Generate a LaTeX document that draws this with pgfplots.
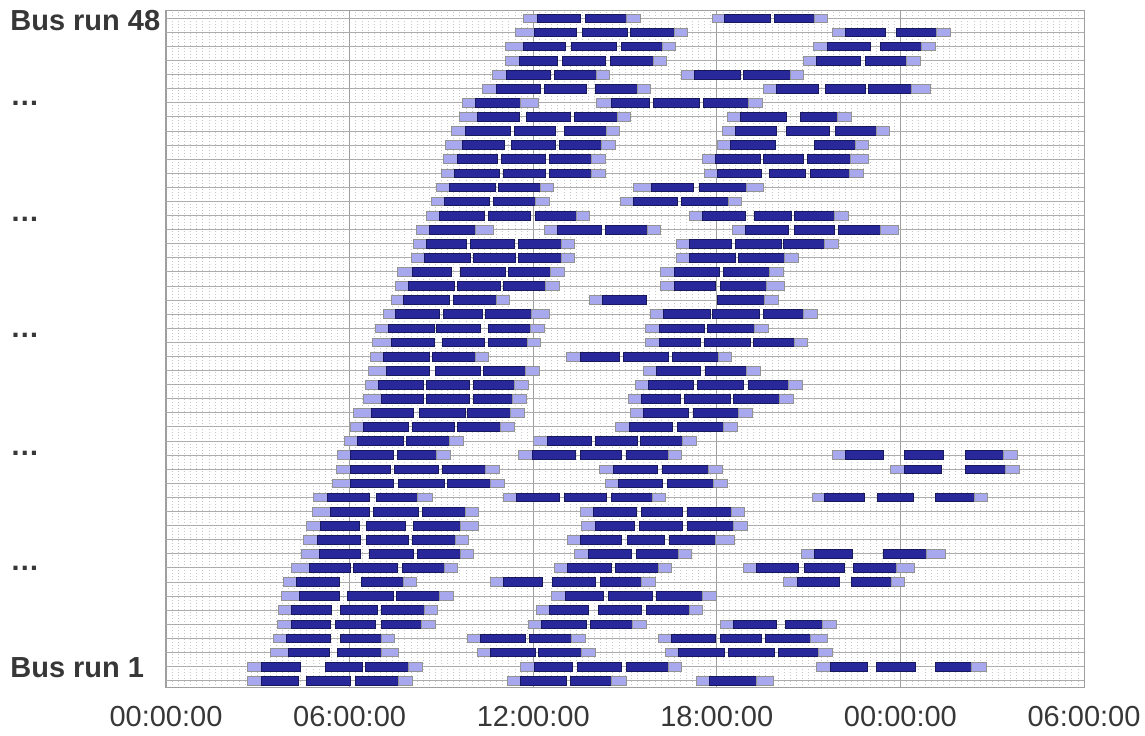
\documentclass[border=0pt]{standalone}
\usepackage{pgfplots}
\usepackage{pgfplotstable}
\pgfplotsset{compat=1.18}
\usepackage{fontspec}
\setmainfont{Liberation Sans}
\definecolor{darkbar}{RGB}{40,40,155}
\definecolor{lightbar}{RGB}{168,168,238}
\definecolor{lblgray}{RGB}{55,55,55}
\pgfplotsset{
  seg0/.style={fill=lightbar, draw=gray!85, line width=0.4pt, forget plot},
  seg1/.style={fill=darkbar, draw=darkbar!60!black, line width=0.4pt, forget plot},
}
\pgfplotstableread{
row s e t
48 11.69 12.14 0
48 12.14 13.55 1
48 13.71 15.05 1
48 15.05 15.50 0
48 17.86 18.25 0
48 18.25 19.75 1
48 19.88 21.20 1
48 21.20 21.61 0
47 11.42 12.04 0
47 12.04 13.40 1
47 13.61 15.07 1
47 15.18 16.60 1
47 16.60 17.03 0
47 21.79 22.19 0
47 22.19 23.50 1
47 23.88 25.18 1
47 25.18 25.63 0
46 11.09 11.69 0
46 11.69 13.05 1
46 13.26 14.72 1
46 14.87 16.23 1
46 16.23 16.66 0
46 21.17 21.61 0
46 21.61 23.01 1
46 23.36 24.70 1
46 24.70 25.15 0
45 11.09 11.55 0
45 11.55 12.78 1
45 12.95 14.37 1
45 14.52 15.92 1
45 15.92 16.35 0
45 20.83 21.26 0
45 21.26 22.68 1
45 22.87 24.21 1
45 24.21 24.64 0
44 10.68 11.13 0
44 11.13 12.56 1
44 12.70 14.08 1
44 14.08 14.50 0
44 16.85 17.28 0
44 17.28 18.78 1
44 18.87 20.39 1
44 20.39 20.82 0
43 10.33 10.80 0
43 10.80 12.23 1
43 12.37 13.73 1
43 14.04 15.42 1
43 15.42 15.84 0
43 19.53 19.94 0
43 19.94 21.32 1
43 21.55 22.85 1
43 22.97 24.37 1
43 24.37 24.97 0
42 9.69 10.10 0
42 10.10 11.59 1
42 11.59 12.16 0
42 14.08 14.56 0
42 14.56 15.79 1
42 15.94 17.42 1
42 17.55 19.03 1
42 19.03 19.48 0
41 9.59 10.19 0
41 10.19 11.55 1
41 11.79 13.20 1
41 13.36 14.74 1
41 14.74 15.17 0
41 18.35 18.78 0
41 18.78 20.29 1
41 20.72 21.94 1
41 21.94 22.39 0
40 9.34 9.77 0
40 9.77 11.24 1
40 11.38 12.72 1
40 13.03 14.39 1
40 14.39 14.83 0
40 18.17 18.62 0
40 18.62 19.96 1
40 20.29 21.67 1
40 21.86 23.20 1
40 23.20 23.63 0
39 9.13 9.69 0
39 9.69 11.07 1
39 11.28 12.72 1
39 12.87 14.23 1
39 14.23 14.68 0
39 18.02 18.45 0
39 18.45 19.92 1
39 21.20 22.52 1
39 22.52 22.97 0
38 9.07 9.51 0
38 9.51 10.82 1
38 10.95 12.39 1
38 12.54 13.90 1
38 13.90 14.37 0
38 17.53 17.96 0
38 17.96 19.42 1
38 19.53 20.83 1
38 20.95 22.37 1
38 22.37 22.95 0
37 9.01 9.44 0
37 9.44 10.91 1
37 11.03 12.39 1
37 12.54 13.90 1
37 13.90 14.35 0
37 17.59 18.02 0
37 18.02 19.46 1
37 19.71 20.91 1
37 21.05 22.33 1
37 22.33 22.78 0
36 8.83 9.26 0
36 9.26 10.76 1
36 10.85 12.23 1
36 12.23 12.66 0
36 15.28 15.86 0
36 15.86 17.22 1
36 17.44 18.97 1
36 18.97 19.53 0
35 8.68 9.09 0
35 9.09 10.58 1
35 10.70 12.08 1
35 12.08 12.52 0
35 14.85 15.28 0
35 15.28 16.72 1
35 16.85 18.39 1
35 18.39 18.82 0
34 8.52 8.93 0
34 8.93 10.41 1
34 10.52 11.90 1
34 12.06 13.40 1
34 13.40 13.84 0
34 17.11 17.53 0
34 17.53 18.95 1
34 19.22 20.43 1
34 20.54 21.84 1
34 21.84 22.29 0
33 8.19 8.62 0
33 8.62 10.10 1
33 10.10 10.70 0
33 12.37 12.78 0
33 12.78 14.23 1
33 14.37 15.73 1
33 15.73 16.17 0
33 18.52 18.95 0
33 18.95 20.35 1
33 20.52 21.84 1
33 21.96 23.36 1
33 23.36 23.94 0
32 8.08 8.50 0
32 8.50 9.83 1
32 9.94 11.40 1
32 11.53 12.91 1
32 12.91 13.34 0
32 16.68 17.11 0
32 17.11 18.47 1
32 18.60 20.12 1
32 20.19 21.53 1
32 21.53 21.96 0
31 8.02 8.43 0
31 8.43 9.94 1
31 10.04 11.42 1
31 11.53 12.91 1
31 12.91 13.34 0
31 16.68 17.11 0
31 17.11 18.60 1
31 18.72 20.21 1
31 20.21 20.66 0
30 7.57 8.04 0
30 8.04 9.34 1
30 9.63 11.09 1
30 11.20 12.56 1
30 12.56 13.03 0
30 16.17 16.62 0
30 16.62 18.10 1
30 18.21 19.73 1
30 19.73 20.16 0
29 7.51 7.92 0
29 7.92 9.44 1
29 9.51 10.93 1
29 11.03 12.39 1
29 12.39 12.85 0
29 16.16 16.62 0
29 16.62 17.96 1
29 18.12 19.63 1
29 19.63 20.21 0
28 7.36 7.77 0
28 7.77 9.26 1
28 9.38 10.80 1
28 10.80 11.22 0
28 13.84 14.27 0
28 14.27 15.71 1
28 18.02 19.55 1
28 19.55 20.00 0
27 7.09 7.51 0
27 7.51 8.93 1
27 9.05 10.33 1
27 10.45 11.94 1
27 11.94 12.52 0
27 15.83 16.27 0
27 16.27 17.79 1
27 17.86 19.38 1
27 19.53 20.83 1
27 20.83 21.30 0
26 6.85 7.28 0
26 7.28 8.76 1
26 8.85 10.27 1
26 10.52 11.90 1
26 11.90 12.35 0
26 15.67 16.12 0
26 16.12 17.61 1
26 17.69 19.22 1
26 19.22 19.67 0
25 6.76 7.36 0
25 7.36 8.76 1
25 9.03 10.41 1
25 10.54 11.81 1
25 11.81 12.25 0
25 15.67 16.12 0
25 16.12 17.46 1
25 17.61 19.11 1
25 19.18 20.54 1
25 20.54 20.97 0
24 6.68 7.11 0
24 7.11 8.60 1
24 8.70 10.12 1
24 10.12 10.54 0
24 13.09 13.55 0
24 13.55 14.82 1
24 14.95 16.41 1
24 16.54 18.06 1
24 18.06 18.49 0
23 6.60 7.20 0
23 7.20 8.60 1
23 8.80 10.27 1
23 10.37 11.75 1
23 11.75 12.19 0
23 15.61 16.04 0
23 16.04 17.46 1
23 17.63 18.97 1
23 18.97 19.42 0
22 6.52 6.95 0
22 6.95 8.41 1
22 8.52 9.92 1
22 10.04 11.40 1
22 11.40 11.84 0
22 15.34 15.77 0
22 15.77 17.22 1
22 17.36 18.87 1
22 19.03 20.35 1
22 20.35 20.80 0
21 6.45 7.03 0
21 7.03 8.41 1
21 8.52 9.92 1
21 10.06 11.32 1
21 11.32 11.77 0
21 15.11 15.53 0
21 15.53 16.80 1
21 16.95 18.45 1
21 18.54 20.06 1
21 20.06 20.50 0
20 6.12 6.70 0
20 6.70 8.10 1
20 8.29 9.77 1
20 9.86 11.26 1
20 11.26 11.71 0
20 15.18 15.61 0
20 15.61 17.07 1
20 17.22 18.72 1
20 18.72 19.17 0
19 6.02 6.45 0
19 6.45 7.92 1
19 8.04 9.44 1
19 9.53 10.93 1
19 10.93 11.40 0
19 14.68 15.13 0
19 15.13 16.56 1
19 16.72 18.21 1
19 18.21 18.66 0
18 5.84 6.27 0
18 6.27 7.75 1
18 7.86 9.26 1
18 9.26 9.71 0
18 12.02 12.45 0
18 12.45 13.90 1
18 14.04 15.40 1
18 15.51 16.89 1
18 16.89 17.34 0
17 5.59 6.02 0
17 6.02 7.42 1
17 7.55 8.85 1
17 8.85 9.28 0
17 11.53 11.96 0
17 11.96 13.38 1
17 13.53 14.89 1
17 15.03 16.41 1
17 16.41 16.83 0
17 21.77 22.19 0
17 22.19 23.44 1
17 24.12 25.40 1
17 26.14 27.38 1
17 27.38 27.81 0
16 5.57 6.02 0
16 6.02 7.32 1
16 7.48 8.91 1
16 9.03 10.43 1
16 10.43 10.89 0
16 14.17 14.62 0
16 14.62 16.06 1
16 16.21 17.71 1
16 17.71 18.17 0
16 23.67 24.14 0
16 24.14 25.34 1
16 26.14 27.42 1
16 27.42 27.88 0
15 5.44 6.02 0
15 6.02 7.42 1
15 7.61 9.09 1
15 9.20 10.60 1
15 10.60 11.05 0
15 14.37 14.80 0
15 14.80 16.21 1
15 16.37 17.90 1
15 17.90 18.35 0
14 4.83 5.28 0
14 5.28 6.66 1
14 6.87 8.23 1
14 8.23 8.70 0
14 11.03 11.46 0
14 11.46 12.87 1
14 13.03 14.39 1
14 14.54 15.90 1
14 15.90 16.33 0
14 21.11 21.53 0
14 21.53 22.83 1
14 23.24 24.43 1
14 25.13 26.41 1
14 26.41 26.85 0
13 4.78 5.38 0
13 5.38 6.66 1
13 6.78 8.25 1
13 8.37 9.77 1
13 9.77 10.21 0
13 13.53 13.96 0
13 13.96 15.38 1
13 15.53 16.89 1
13 17.05 18.47 1
13 18.47 18.91 0
12 4.58 5.03 0
12 5.03 6.33 1
12 6.54 7.81 1
12 8.10 9.61 1
12 9.61 10.21 0
12 13.59 14.04 0
12 14.04 15.30 1
12 15.46 16.89 1
12 17.05 18.54 1
12 18.54 18.99 0
11 4.50 4.95 0
11 4.95 6.35 1
11 6.54 7.92 1
11 8.06 9.46 1
11 9.46 9.88 0
11 13.11 13.53 0
11 13.53 14.87 1
11 15.07 16.29 1
11 16.45 17.96 1
11 17.96 18.56 0
10 4.43 5.01 0
10 5.01 6.35 1
10 6.64 8.10 1
10 8.21 9.61 1
10 9.61 10.04 0
10 13.34 13.79 0
10 13.79 15.22 1
10 15.38 16.74 1
10 16.74 17.18 0
10 20.76 21.18 0
10 21.18 22.43 1
10 23.46 24.85 1
10 24.85 25.46 0
9 4.10 4.70 0
9 4.70 6.02 1
9 6.14 7.57 1
9 7.73 9.09 1
9 9.09 9.53 0
9 12.70 13.13 0
9 13.13 14.54 1
9 14.70 16.08 1
9 16.08 16.52 0
9 18.87 19.30 0
9 19.30 20.68 1
9 20.85 22.17 1
9 22.45 23.88 1
9 23.88 24.45 0
8 3.84 4.27 0
8 4.27 5.67 1
8 6.37 7.77 1
8 7.77 8.19 0
8 10.60 11.03 0
8 11.03 12.29 1
8 12.62 14.04 1
8 14.19 15.55 1
8 15.55 16.00 0
8 20.19 20.62 0
8 20.62 22.02 1
8 22.39 23.69 1
8 23.69 24.14 0
7 3.77 4.35 0
7 4.35 5.67 1
7 5.94 7.42 1
7 7.53 8.93 1
7 8.93 9.38 0
7 12.60 13.05 0
7 13.05 14.29 1
7 14.45 15.88 1
7 16.04 17.53 1
7 17.53 17.98 0
6 3.67 4.10 0
6 4.10 5.40 1
6 5.69 6.91 1
6 7.03 8.43 1
6 8.43 8.87 0
6 12.10 12.54 0
6 12.54 13.79 1
6 14.12 15.55 1
6 15.69 17.09 1
6 17.09 17.53 0
5 3.65 4.10 0
5 4.10 5.36 1
5 5.53 6.83 1
5 7.05 8.35 1
5 8.35 8.80 0
5 11.84 12.27 0
5 12.27 13.75 1
5 13.86 15.24 1
5 15.24 15.69 0
5 18.12 18.54 0
5 18.54 19.94 1
5 20.23 21.46 1
5 21.46 21.90 0
4 3.50 3.92 0
4 3.92 5.36 1
4 5.69 7.03 1
4 7.03 7.48 0
4 9.84 10.27 0
4 10.27 11.73 1
4 11.86 13.26 1
4 13.26 13.71 0
4 16.10 16.52 0
4 16.52 17.96 1
4 18.12 19.46 1
4 19.59 21.07 1
4 21.07 21.63 0
3 3.42 4.00 0
3 4.00 5.34 1
3 5.59 7.03 1
3 7.03 7.61 0
3 10.17 10.60 0
3 10.60 12.06 1
3 12.17 13.59 1
3 13.59 14.02 0
3 16.33 16.76 0
3 16.76 18.25 1
3 18.37 19.88 1
3 20.02 21.32 1
3 21.32 21.79 0
2 2.66 3.11 0
2 3.11 4.39 1
2 5.20 6.41 1
2 6.52 7.92 1
2 7.92 8.39 0
2 11.57 12.04 0
2 12.04 13.28 1
2 13.44 14.87 1
2 15.03 16.41 1
2 16.41 16.85 0
2 21.26 21.71 0
2 21.71 22.91 1
2 23.22 24.49 1
2 25.13 26.33 1
2 26.33 26.80 0
1 2.66 3.11 0
1 3.11 4.33 1
1 4.60 6.02 1
1 6.19 7.61 1
1 7.61 8.06 0
1 11.17 11.59 0
1 11.59 13.07 1
1 13.20 14.56 1
1 14.56 15.03 0
1 17.34 17.77 0
1 17.77 19.30 1
1 19.30 19.86 0
}\segs

\begin{document}
\begin{tikzpicture}
\begin{axis}[
  scale only axis,
  width=459pt, height=338.5pt,
  xmin=0, xmax=30, ymin=0.48, ymax=48.52,
  axis line style={gray!75, line width=0.5pt},
  xtick={0,6,12,18,24,30},
  xticklabels={00:00:00,06:00:00,12:00:00,18:00:00,00:00:00,06:00:00},
  minor x tick num=29,
  xmajorgrids, xminorgrids,
  major x grid style={gray!75, line width=0.45pt},
  minor x grid style={gray!45, line width=0.3pt, dash pattern=on 0.6pt off 0.9pt},
  ytick={1,...,48},
  yticklabels={},
  ymajorgrids,
  major y grid style={gray!65, line width=0.5pt},
  major tick length=0pt, minor tick length=0pt,
  tick style={draw=none},
  xticklabel style={font=\fontsize{14.5}{16}\selectfont, text=lblgray, yshift=-5.5pt},
  extra y ticks={47.84,41.95,33.72,25.48,17.11,8.95,1.92},
  extra y tick labels={Bus run 48,…,…,…,…,…,Bus run 1},
  extra y tick style={grid=none,
    yticklabel style={anchor=west, inner sep=0pt, xshift=-78pt,
      font=\bfseries\fontsize{14.5}{17}\selectfont, text=lblgray}},
  clip=false,
]
\pgfplotstablegetrowsof{\segs}
\pgfmathtruncatemacro\nseg{\pgfplotsretval-1}
\pgfplotsforeachungrouped \i in {0,...,\nseg}{%
  \pgfplotstablegetelem{\i}{row}\of\segs \let\ry\pgfplotsretval
  \pgfplotstablegetelem{\i}{s}\of\segs \let\ra\pgfplotsretval
  \pgfplotstablegetelem{\i}{e}\of\segs \let\rb\pgfplotsretval
  \pgfplotstablegetelem{\i}{t}\of\segs \let\rt\pgfplotsretval
  \pgfmathsetmacro\ylo{\ry-0.31}%
  \pgfmathsetmacro\yhi{\ry+0.31}%
  \edef\cmd{\noexpand\addplot[seg\rt] coordinates {(\ra,\ylo) (\rb,\ylo) (\rb,\yhi) (\ra,\yhi)} -- cycle;}%
  \cmd
}
\end{axis}
\pgfresetboundingbox
\path[use as bounding box] ([shift={(-83pt,-24pt)}]current axis.south west) rectangle ([shift={(30.5pt,5.5pt)}]current axis.north east);
\end{tikzpicture}
\end{document}
